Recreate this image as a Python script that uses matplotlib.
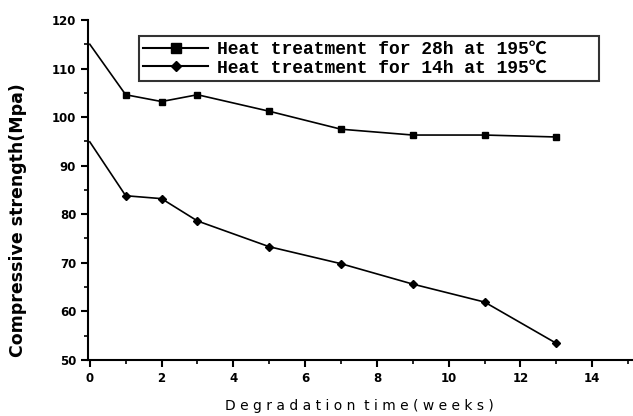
import matplotlib
matplotlib.use('Agg')
import matplotlib.pyplot as plt
from matplotlib.ticker import MultipleLocator

# data
weeks = [0, 1, 2, 3, 5, 7, 9, 11, 13]
strength_28h = [115.0, 104.6, 103.2, 104.6, 101.2, 97.5, 96.3, 96.3, 95.9]
strength_14h = [94.9, 83.8, 83.2, 78.6, 73.3, 69.8, 65.6, 61.9, 53.4]
labels = ['Heat treatment for 28h at 195\u2103', 'Heat treatment for 14h at 195\u2103']

fig = plt.figure(figsize=(6.33, 4.16), dpi=100)
ax = fig.add_axes([0.139, 0.135, 0.859, 0.817])

ax.plot(weeks[1:], strength_28h[1:], 's', color='black', markersize=5)
ax.plot(weeks[1:], strength_14h[1:], 'D', color='black', markersize=4)
ax.plot(weeks, strength_28h, '-', color='black', linewidth=1.2)
ax.plot(weeks, strength_14h, '-', color='black', linewidth=1.2)

# legend proxies
h1, = ax.plot([], [], '-s', color='black', markersize=7, linewidth=1.5)
h2, = ax.plot([], [], '-D', color='black', markersize=5, linewidth=1.5)
leg = ax.legend([h1, h2], labels, loc='upper left', bbox_to_anchor=(0.077, 0.978, 0.88, 0.0),
                mode='expand', handlelength=3.6, handletextpad=0.5, borderpad=0.25,
                labelspacing=0.08, fancybox=False, frameon=True,
                prop={'family': ['Liberation Mono', 'Noto Sans CJK SC'],
                      'weight': 'bold', 'size': 13})
leg.get_frame().set_edgecolor('black')
leg.get_frame().set_linewidth(1.5)

ax.set_ylim(50, 120)
ax.xaxis.set_major_locator(MultipleLocator(2))
ax.xaxis.set_minor_locator(MultipleLocator(1))
ax.yaxis.set_major_locator(MultipleLocator(10))
ax.yaxis.set_minor_locator(MultipleLocator(5))
ax.spines['top'].set_visible(False)
ax.spines['right'].set_visible(False)
ax.spines['left'].set_linewidth(1.5)
ax.spines['bottom'].set_linewidth(1.5)
ax.tick_params(which='major', direction='out', length=5, width=1.5, labelsize=8.5)
ax.tick_params(which='minor', direction='out', length=3, width=1.2)
for t in ax.get_xticklabels() + ax.get_yticklabels():
    t.set_fontweight('bold')
ax.set_xlim(-0.05, 15.1)

ax.set_ylabel('Compressive strength(Mpa)', fontsize=12.5, fontweight='heavy')
ax.yaxis.set_label_coords(-0.112, 0.41)
ax.set_xlabel('D e g r a d a t i o n  t i m e ( w e e k s )', fontsize=10, labelpad=10)

fig.savefig('out.png', dpi=100)
